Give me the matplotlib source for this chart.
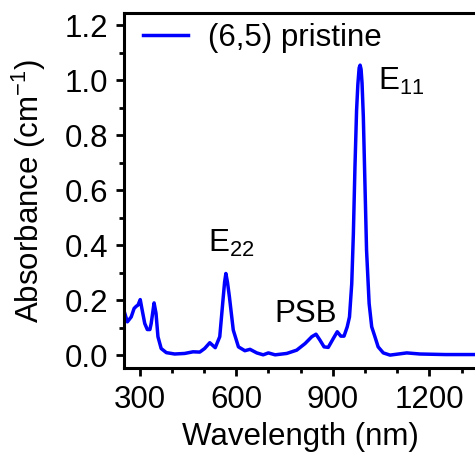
import matplotlib
matplotlib.use("Agg")
import matplotlib.pyplot as plt
from matplotlib.ticker import MultipleLocator

plt.rcParams['font.family'] = ['Liberation Sans', 'DejaVu Sans']
plt.rcParams['mathtext.fontset'] = 'custom'
plt.rcParams['mathtext.rm'] = 'Liberation Sans'
plt.rcParams['mathtext.it'] = 'Liberation Sans:italic'
plt.rcParams['mathtext.default'] = 'regular'

# Absorption spectrum of pristine (6,5) SWCNT dispersion
wavelength = [254, 262, 274, 283, 290, 295, 302, 307, 316, 324, 332, 336, 345,
              351, 357, 367, 383, 409, 440, 466, 487, 502, 518, 535, 549, 559,
              564, 568, 573, 579, 591, 607, 627, 643, 664, 684, 700, 721, 757,
              788, 814, 835, 848, 860, 873, 886, 902, 914, 925, 935, 945, 952,
              959, 964, 969, 974, 978, 982, 985, 988, 991, 995, 1000, 1005,
              1013, 1021, 1031, 1041, 1057, 1078, 1104, 1130, 1171, 1250, 1350]
absorbance = [0.152, 0.121, 0.139, 0.170, 0.178, 0.182, 0.202, 0.170, 0.115,
              0.093, 0.093, 0.115, 0.190, 0.152, 0.067, 0.024, 0.009, 0.004,
              0.006, 0.012, 0.011, 0.024, 0.045, 0.027, 0.067, 0.200, 0.265,
              0.297, 0.265, 0.212, 0.091, 0.030, 0.016, 0.021, 0.008, 0.001,
              0.008, 0.001, 0.006, 0.018, 0.042, 0.067, 0.076, 0.055, 0.030,
              0.028, 0.061, 0.085, 0.069, 0.069, 0.103, 0.139, 0.260, 0.440,
              0.685, 0.890, 0.985, 1.045, 1.055, 1.040, 0.990, 0.867, 0.624,
              0.382, 0.188, 0.103, 0.067, 0.030, 0.008, 0.000, 0.004, 0.008,
              0.004, 0.002, 0.002]

x_ticks = [300, 600, 900, 1200]
y_ticks = [0.0, 0.2, 0.4, 0.6, 0.8, 1.0, 1.2]

fig = plt.figure(figsize=(4.75, 4.57), dpi=100)
ax = fig.add_axes([0.26, 0.1947, 0.7455, 0.777])

ax.plot(wavelength, absorbance, color='#0000FF', lw=2.5,
        label='(6,5) pristine')

ax.set_xlim(250, 1350)
ax.set_ylim(-0.047, 1.245)
ax.set_xticks(x_ticks)
ax.set_yticks(y_ticks)
ax.set_yticklabels([f"{v:.1f}" for v in y_ticks])
ax.xaxis.set_minor_locator(MultipleLocator(100))
ax.yaxis.set_minor_locator(MultipleLocator(0.1))

for s in ax.spines.values():
    s.set_linewidth(2.2)
ax.tick_params(which='major', direction='out', length=6, width=2.0,
               labelsize=22.5)
ax.tick_params(axis='x', which='major', pad=6)
ax.tick_params(axis='y', which='major', pad=5)
ax.tick_params(which='minor', direction='out', length=3.5, width=2.0)
ax.tick_params(top=False, right=False, which='both')

ax.set_xlabel('Wavelength (nm)', fontsize=22.5)
ax.set_ylabel('Absorbance (cm$^{-1}$)', fontsize=22.5)
ax.xaxis.set_label_coords(0.5, -0.152)
ax.yaxis.set_label_coords(-0.214, 0.5)

ax.text(512, 0.376, r'E$_{22}$', fontsize=22.5)
ax.text(720, 0.121, 'PSB', fontsize=22.5)
ax.text(1041, 0.964, r'E$_{11}$', fontsize=22.5)

ax.legend(loc='center left', bbox_to_anchor=(0.055, 0.9296), frameon=False,
          fontsize=22.5, borderpad=0, borderaxespad=0, handlelength=1.45,
          handletextpad=0.62)

fig.savefig('out.png', dpi=100)
